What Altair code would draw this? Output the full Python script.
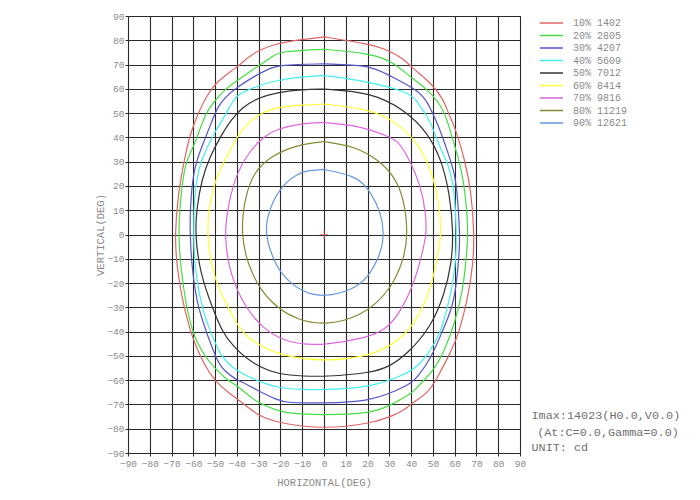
import altair as alt
import pandas as pd

# ---- data (degrees) ----
levels = ["10% 1402", "20% 2805", "30% 4207", "40% 5609", "50% 7012",
          "60% 8414", "70% 9816", "80% 11219", "90% 12621"]
colors = ["#e06666", "#44dd44", "#5555cc", "#44eeee", "#333333",
          "#ffff33", "#dd66dd", "#888833", "#6699dd"]

H_10 = [0, -10, -22.3, -30, -34.6, -40, -45.4, -50, -53.8, -57.7, -61.5, -63.8, -67, -68.5, -67.7, -65.4, -61.5,
        -59.2, -55.4, -50.5, -43.5, -38.5, -30, -20, 0, 21.5, 30.8, 37, 40, 47.7, 52.3, 57, 61.5, 66.2, 68.5, 69,
        67.7, 64.6, 60, 57, 55, 49.2, 40, 36.9, 30, 20, 0]
V_10 = [81.4, 80.4, 78.6, 75.9, 73.1, 68.9, 65.5, 62, 57.2, 50.3, 41.3, 32.3, 17, 0, -12, -25.8, -39.5,
        -45, -53, -60, -65.5, -68.5, -75, -77.8, -80.2, -77.8, -75, -72.3, -69.6, -65.5, -58.6, -50.4, -42.2, -25.8, -12, 0,
        17.3, 31, 44.7, 50, 55.5, 62.5, 69, 72, 75.9, 78.6, 81.4]

H_20 = [0, -20.8, -23.8, -30, -37.7, -45.4, -50.8, -54.6, -57.7, -60.5, -63.8, -66, -67, -65.4, -62.3, -58.5,
        -52.3, -50, -44.6, -40, -32.3, -30, -20, 0, 21.5, 30.8, 40, 41, 50.5, 55.4, 60, 63.8, 65.4, 66.2, 65.4,
        63, 58.5, 55.4, 47.7, 41.5, 30.8, 21.5, 0]
V_20 = [76.3, 75.4, 73.1, 69.6, 64.8, 60, 54.4, 49.6, 41.3, 35, 29.6, 14.5, 0, -17.5, -34, -45,
        -53, -55, -60, -62, -68.2, -69, -73.7, -74.4, -73.7, -70.3, -65.5, -64.5, -56, -47.7, -36.7, -23, -9.3, 0, 13.2,
        28.2, 40.5, 51.5, 59.7, 63.5, 71.7, 74.5, 76.3]

H_30 = [0, -20.8, -25.4, -31.5, -40, -45.4, -48.5, -50.8, -53.8, -56.2, -60, -61.5, -61.5, -60.8, -58.5, -53.8,
        -49.2, -46.2, -40, -38.5, -30.8, -21.5, -17, 0, 20, 33.8, 40, 43, 49.2, 54.5, 58.5, 60.8, 62.3, 62.3, 61.5,
        60, 56.9, 53, 49.2, 47.7, 43, 29.2, 20.8, 0]
V_30 = [70.3, 69.9, 68.2, 65.5, 60.6, 56.5, 53, 48.2, 41.3, 36, 26.8, 10.4, 0, -12, -28.5, -40.8,
        -51.8, -55.9, -60, -60.3, -64.1, -68.2, -69.4, -69.4, -68.9, -64.1, -61.3, -58.6, -51, -39.5, -31.2, -21.6, -5.2, 0, 14.5,
        25.5, 33.7, 44, 51.1, 54.2, 59.7, 65.8, 69.8, 70.3]

H_40 = [0, -10, -22.3, -30, -40, -43, -46.9, -50.8, -57.7, -59.5, -60, -59.2, -55.4, -52.3, -47.7, -40, -27.7,
        -20, -9.2, 0, 21.5, 38.5, 44.6, 50.8, 53.8, 55.4, 59.2, 60.8, 60.8, 60, 56.9, 53.8, 50.8, 47.7, 43, 40,
        18.5, 0]
V_40 = [65.5, 65, 63.4, 61.3, 57.9, 53, 46.8, 41.3, 28.2, 16, 0, -16.2, -32.6, -39.3, -50.3, -56.5, -61.4,
        -63.4, -63.8, -64, -63, -57.3, -53.2, -45, -39.3, -34, -21.6, -6.6, 0, 18.6, 29.6, 34.6, 41.9, 48.4, 54.2, 58.5,
        63.3, 65.5]

H_50 = [0, -10, -20.8, -30, -37.7, -43, -46.9, -52.3, -56.2, -58.5, -59.2, -56.9, -50.8, -47, -42, -32.3, -20,
        -9.2, 0, 21.5, 30, 38.5, 49.2, 55.4, 58.5, 59.5, 57.7, 53.8, 47.7, 36.9, 21.5, 0]
V_50 = [59.9, 59.7, 58.6, 56.5, 52.3, 46.8, 41.3, 32.3, 22.7, 10.4, 0, -16.2, -31.2, -39.5, -46, -53.7, -57.9,
        -58.3, -58.6, -57, -54.5, -49, -38, -24.4, -12, 0, 17.3, 31, 41.9, 51.5, 58.6, 59.9]

H_60 = [0, -10, -22.3, -30, -36.2, -39.2, -44.6, -50, -53, -53.8, -50.8, -41.5, -38.5, -32.3, -20, 0, 21.5, 37,
        46, 50.8, 53, 53.8, 53, 49.2, 43, 33.8, 21.5, 0]
V_60 = [53.7, 53.4, 52.3, 49.6, 44.7, 41.3, 32.3, 22.7, 10.4, 0, -18.9, -34, -39.3, -44.5, -50, -52.4, -50.3, -42.8,
        -29.9, -16.2, -3.8, 0, 13.2, 26.8, 37.8, 46, 51.6, 53.7]

H_70 = [0, -10, -22.3, -27.5, -34.5, -40, -43.8, -46, -43, -35.4, -27, -20, -12.3, 0, 20, 27.7, 33.8, 41.5,
        45.4, 47, 46.9, 44.6, 38.5, 33.8, 29.2, 16.9, 0]
V_70 = [46.1, 45.8, 43.3, 40.5, 34, 25.5, 13.2, 0, -17.5, -31.2, -39.3, -43, -45, -45.7, -42.5, -39.3, -34, -20.3,
        -6.6, 0, 7.7, 20, 32.3, 38.7, 40.5, 44.7, 46.1]

H_80 = [0, -12.3, -24.6, -32.3, -36.2, -38.5, -33.8, -24.6, -12.3, 0, 17, 30.8, 37, 38.5, 36.9, 32.3, 24.6,
        13.8, 0]
V_80 = [38.3, 37, 32.3, 25.5, 15.9, 0, -16.2, -28.5, -35.3, -37.4, -34, -23, -9.3, 0, 14.5, 24.1, 31,
        36.4, 38.3]

H_90 = [0, -9.2, -12.5, -16.9, -20.2, -23, -26, -27, -23.3, -18.8, -9.6, 0, 13.3, 20.5, 26, 27.7, 26.2,
        21.5, 18, 13.8, 0]
V_90 = [26.8, 26.2, 24.5, 22, 18.3, 14.5, 7.7, 0, -10.5, -17.4, -24, -25.8, -22.8, -17.5, -8, 0, 9,
        17.3, 21, 24.1, 26.8]

contours_h = [H_10, H_20, H_30, H_40, H_50, H_60, H_70, H_80, H_90]
contours_v = [V_10, V_20, V_30, V_40, V_50, V_60, V_70, V_80, V_90]

info_text = ["Imax:14023(H0.0,V0.0)", "(At:C=0.0,Gamma=0.0)", "UNIT: cd"]
info_h = [95.3, 97.9, 95.3]
info_v = [-74.3, -81.2, -87.4]

ticks = list(range(-90, 91, 10))

# ---- build tables ----
rows = []
for lab, hs, vs in zip(levels, contours_h, contours_v):
    for i, (h, v) in enumerate(zip(hs, vs)):
        rows.append({"level": lab, "idx": i, "h": h, "v": v})
df = pd.DataFrame(rows)

info_df = pd.DataFrame({"t": info_text, "h": info_h, "v": info_v})
center_df = pd.DataFrame({"h": [0], "v": [0]})

MONO = "Liberation Mono"

xscale = alt.Scale(domain=[-90, 90], nice=False, zero=False)
yscale = alt.Scale(domain=[-90, 90], nice=False, zero=False)

common = dict(grid=True, gridColor="#2a2a2a", gridOpacity=1, gridWidth=1.1,
              domainColor="#2a2a2a", tickColor="#2a2a2a", tickSize=3,
              labelFont=MONO, labelFontSize=9.5, labelColor="#8a8a8a", labelOverlap=False,
              labelSeparation=0, titleFont=MONO, titleFontSize=10.5, titleColor="#8a8a8a",
              titleFontWeight="normal", labelFlush=False)

xaxis = alt.Axis(values=ticks, title="HORIZONTAL(DEG)", labelPadding=2, titlePadding=10, **common)
yaxis = alt.Axis(values=ticks, title="VERTICAL(DEG)", labelPadding=1, titlePadding=1, **common)

X = alt.X("h:Q", scale=xscale, axis=xaxis)
Y = alt.Y("v:Q", scale=yscale, axis=yaxis)

lines = alt.Chart(df).mark_line(strokeWidth=1.2, interpolate="basis").encode(
    x=X, y=Y,
    color=alt.Color("level:N", sort=levels,
                    scale=alt.Scale(domain=levels, range=colors),
                    legend=alt.Legend(title=None, orient="none", legendX=411, legendY=2,
                                      symbolType="stroke", symbolSize=529, symbolStrokeWidth=1.5,
                                      clipHeight=10, rowPadding=2.5, labelOffset=9,
                                      labelFont=MONO, labelFontSize=10, labelColor="#8a8a8a",
                                      padding=0)),
    order="idx:Q",
)

center = alt.Chart(center_df).mark_point(shape="M-1,0H1M0,-1V1", size=70, color="#ff6666",
                                         strokeWidth=1, filled=False).encode(x=X, y=Y)

info = alt.Chart(info_df).mark_text(align="left", baseline="middle", font=MONO, fontSize=11.8,
                                    color="#707070").encode(x=X, y=Y, text="t:N")

chart = alt.layer(lines, center, info).properties(
    width=392, height=437,
    autosize=alt.AutoSizeParams(type="none"),
    padding={"left": 120, "top": 8, "right": 170, "bottom": 36},
    background="white",
).configure_view(stroke="#2a2a2a", strokeWidth=1).configure_axis(labelOverlap=False)

chart.save("out.html", embed_options={"renderer": "svg", "actions": False})
